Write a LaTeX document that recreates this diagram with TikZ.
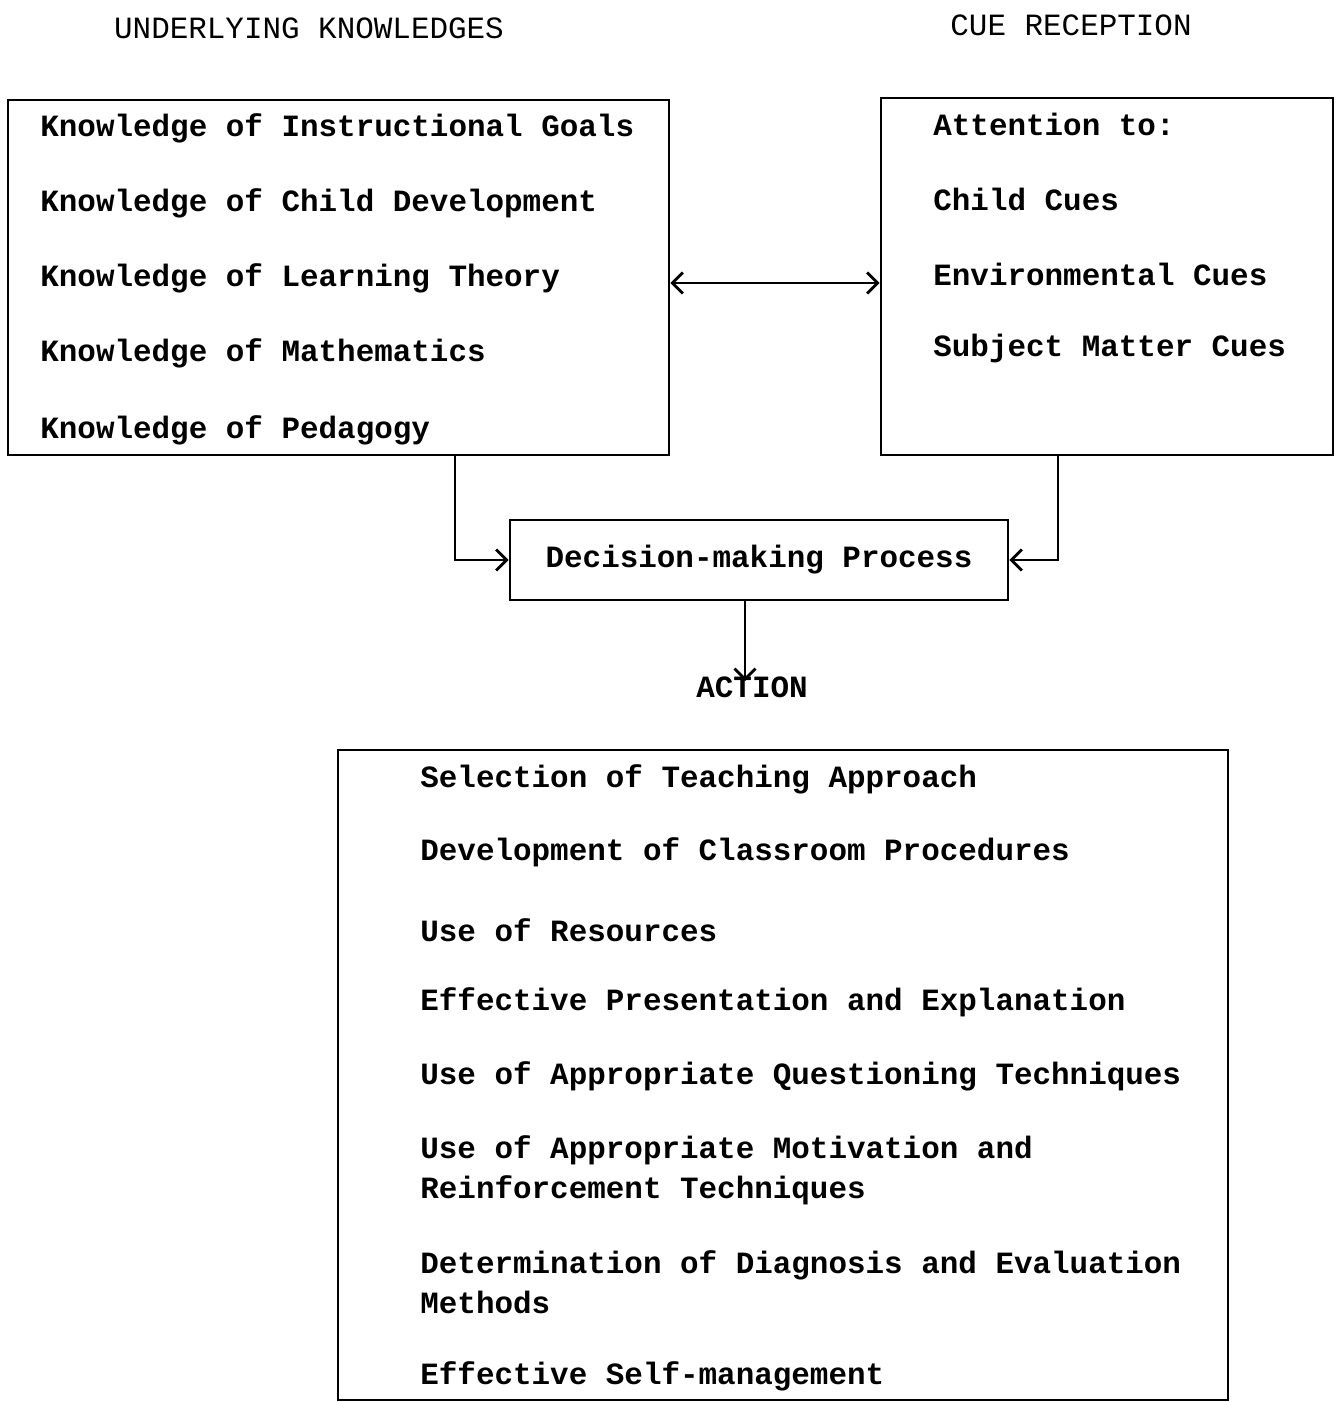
\documentclass[tikz,border=0pt]{standalone}
\usepackage{fontspec}
\setmainfont{Liberation Mono}
\usetikzlibrary{positioning}
\usetikzlibrary{arrows.meta}

\tikzset{
    box/.style  = {draw, line width=1.6pt, inner sep=0pt, font=\fontsize{17.6}{22.7}\selectfont\bfseries},
    item/.style = {anchor=west, inner sep=0pt, align=left, font=\fontsize{17.6}{22.7}\selectfont\bfseries},
    head/.style = {inner sep=0pt, font=\fontsize{17.6}{22.7}\selectfont},
    barb/.tip   = {Straight Barb[length=6pt,width=12pt,line width=1.6pt]},
    link/.style = {line width=1.6pt, -barb},
}

\begin{document}
\begin{tikzpicture}[x=0.02cm, y=-0.02cm]

    \useasboundingbox (0,0) rectangle (1335,1402);

    %Headings
    \node[head] (KnowHead) at (309,28) {UNDERLYING KNOWLEDGES};
    \node[head] (CueHead)  at (1071,25) {CUE RECEPTION};

    %Boxes
    \node[box, minimum width=13.22cm, minimum height=7.10cm] (Knowledge) at (338.5,277.5) {};
    \node[box, minimum width=9.04cm,  minimum height=7.14cm] (Cue)       at (1107,276.5) {};
    \node[box, minimum width=9.96cm,  minimum height=1.60cm] (Decision)  at (759,560) {Decision-making Process};
    \node[box, minimum width=17.80cm, minimum height=13.00cm] (Actions)  at (783,1075) {};

    \node[item, anchor=center] (Action) at (752,687) {ACTION};
    \coordinate (ActionTip) at ([xshift=-0.14cm,yshift=-0.1cm]Action.north);

    %Knowledge lines
    \node[item] (Goals)    at (40,128) {Knowledge of Instructional Goals};
    \node[item] (Child)    at (40,203) {Knowledge of Child Development};
    \node[item] (Theory)   at (40,278) {Knowledge of Learning Theory};
    \node[item] (Maths)    at (40,353) {Knowledge of Mathematics};
    \node[item] (Pedagogy) at (40,430) {Knowledge of Pedagogy};

    %Cue lines
    \node[item] (Attention)   at (933,124) {Attention to:};
    \node[item] (ChildCue)    at (933,199) {Child Cues};
    \node[item] (EnvCue)      at (933,274) {Environmental Cues};
    \node[item] (SubjectCue)  at (933,349) {Subject Matter Cues};

    %Action lines
    \node[item] (Approach)    at (420,779)  {Selection of Teaching Approach};
    \node[item] (Procedures)  at (420,852)  {Development of Classroom Procedures};
    \node[item] (Resources)   at (420,930)  {Use of Resources};
    \node[item] (Presenting)  at (420,1002) {Effective Presentation and Explanation};
    \node[item] (Questioning) at (420,1076) {Use of Appropriate Questioning Techniques};
    \node[item] (Motivation)  at (420,1170) {Use of Appropriate Motivation and\\Reinforcement Techniques};
    \node[item] (Diagnosis)   at (420,1282) {Determination of Diagnosis and Evaluation\\Methods};
    \node[item] (SelfManage)  at (420,1376) {Effective Self-management};

    %Connectors
    \draw[line width=1.6pt, barb-barb] ([yshift=-0.11cm]Knowledge.east) -- ([yshift=-0.11cm]Knowledge.east -| Cue.west);
    \draw[link] ([xshift=2.33cm]Knowledge.south) |- (Decision.west);
    \draw[link] ([xshift=-0.98cm]Cue.south) |- (Decision.east);
    \draw[link] (Decision.south -| ActionTip) -- (ActionTip);

\end{tikzpicture}
\end{document}
